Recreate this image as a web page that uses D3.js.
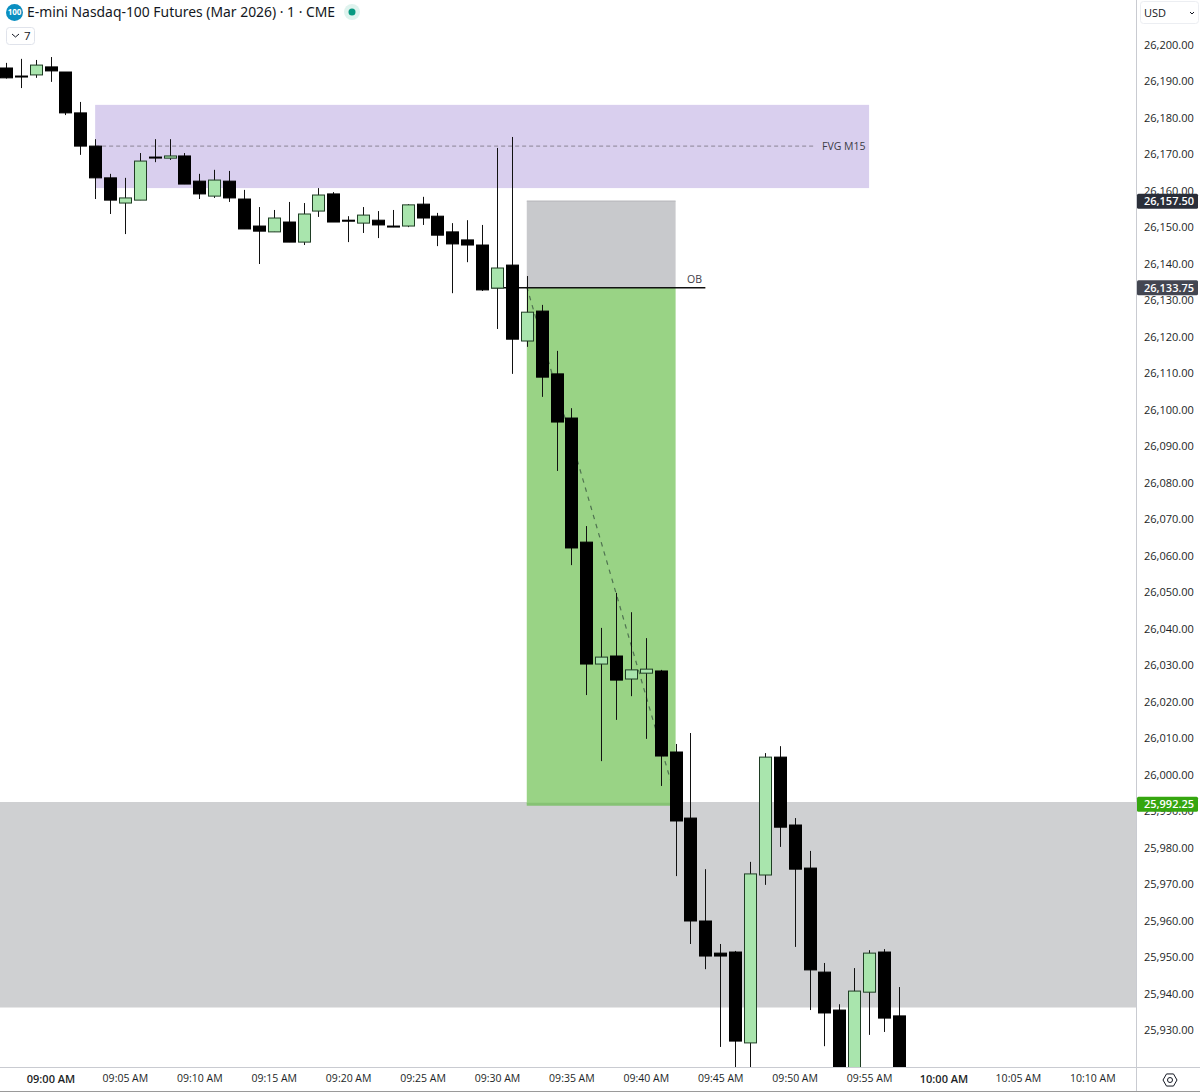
<!DOCTYPE html>
<html><head><meta charset="utf-8">
<script src="https://cdnjs.cloudflare.com/ajax/libs/d3/7.8.5/d3.min.js"></script>
<style>html,body{margin:0;padding:0;background:#fff;overflow:hidden}svg{display:block}text{font-family:"Open Sans","Noto Sans",sans-serif}</style>
</head><body><svg id="c" width="1200" height="1092"></svg>
<script>
// minutes after 09:00
const minutes=[-3,-2,-1,0,1,2,3,4,5,6,7,8,9,10,11,12,13,14,15,16,17,18,19,20,21,22,23,24,25,26,27,28,29,30,31,32,33,34,35,36,37,38,39,40,41,42,43,44,45,46,47,48,49,50,51,52,53,54,55,56,57];
const opens=[26193.7,26191.5,26191.8,26194.0,26192.6,26181.4,26172.3,26163.6,26156.7,26157.5,26169.3,26169.0,26169.6,26162.7,26158.6,26162.7,26157.8,26150.4,26148.8,26151.5,26146.0,26154.5,26159.2,26152.0,26151.2,26152.0,26150.4,26150.4,26156.4,26153.1,26148.8,26146.6,26145.2,26133.4,26139.7,26118.9,26127.1,26109.9,26097.8,26063.8,26030.4,26032.6,26026.3,26027.9,26028.5,26006.3,25988.2,25960.0,25951.2,25951.5,25926.6,25972.6,26004.9,25986.3,25974.5,25946.0,25935.6,25913.7,25940.5,25951.5,25934.0];
const closes=[26191.0,26191.4,26194.5,26192.9,26181.4,26172.3,26163.6,26157.5,26158.1,26168.2,26169.2,26169.6,26161.9,26159.2,26163.0,26158.1,26149.6,26149.0,26152.6,26146.0,26153.7,26158.9,26151.5,26151.9,26153.4,26150.7,26150.3,26156.2,26152.6,26147.9,26145.5,26145.2,26132.9,26138.9,26119.4,26126.8,26109.0,26096.7,26062.2,26030.4,26032.3,26026.0,26028.8,26029.0,26005.2,25987.4,25960.0,25950.4,25950.4,25927.1,25972.9,26004.9,25985.7,25974.2,25946.6,25934.8,25913.7,25940.8,25951.2,25933.4,25913.7];
const highs=[26195.1,26196.2,26195.9,26196.7,26192.6,26184.4,26174.2,26164.7,26163.6,26170.4,26174.2,26174.2,26170.4,26164.7,26165.8,26165.5,26160.3,26155.6,26154.8,26157.0,26156.7,26160.8,26159.7,26153.1,26155.6,26154.5,26154.8,26156.4,26158.4,26154.0,26151.2,26152.0,26150.7,26171.8,26174.8,26136.7,26128.8,26116.2,26100.5,26068.2,26040.3,26049.9,26044.6,26037.5,26028.8,26008.5,26011.5,25974.2,25953.7,25951.8,25976.2,26006.0,26007.9,25988.2,25979.2,25948.5,25937.2,25947.1,25952.0,25952.3,25941.9];
const lows=[26190.8,26188.2,26191.0,26189.9,26180.8,26169.9,26157.8,26153.7,26148.2,26157.5,26167.9,26168.5,26161.9,26157.8,26158.1,26157.0,26149.6,26140.0,26148.8,26146.0,26145.2,26152.9,26151.5,26146.0,26148.5,26147.1,26150.1,26150.1,26150.7,26144.9,26132.0,26140.5,26132.6,26122.2,26109.9,26117.3,26103.6,26083.3,26057.5,26021.9,26003.8,26015.1,26021.6,26009.9,25997.0,25972.3,25953.7,25946.8,25925.5,25917.8,25916.4,25969.9,25980.3,25952.9,25935.6,25925.7,25912.3,25912.3,25928.8,25929.6,25912.3];
const priceTicks=[26200,26190,26180,26170,26160,26150,26140,26130,26120,26110,26100,26090,26080,26070,26060,26050,26040,26030,26020,26010,26000,25990,25980,25970,25960,25950,25940,25930];
const timeTicks=[0,5,10,15,20,25,30,35,40,45,50,55,60,65,70];
const timeLabels=["09:00 AM","09:05 AM","09:10 AM","09:15 AM","09:20 AM","09:25 AM","09:30 AM","09:35 AM","09:40 AM","09:45 AM","09:50 AM","09:55 AM","10:00 AM","10:05 AM","10:10 AM"];
const boldMinutes=[0,60];
const fvgZone=[26183.6,26160.8], fvgMid=26172.3, fvgSpan=[3,55], fvgLineEnd=51.25;
const stopBox=[26157.25,26133.5], targetBox=[26133.5,25992.0], boxSpan=[32,42];
const obLine=[29.6,44], obPrice=26133.5;
const demandZone=[25992.6,25936.3];
const tradeLine=[[32,26133.75],[41.7,25998]];
const priceTags=[[26157.5,"26,157.50","#2a2e39"],[26133.75,"26,133.75","#434651"],[25992.25,"25,992.25","#35a60f"]];

const W=1137,B=1067;
const x=d3.scaleLinear().domain([0,60]).range([50.5,943.5]);
const y=d3.scaleLinear().domain([26200,25930]).range([45,1030.5]);
const svg=d3.select("#c");
svg.append("defs").append("clipPath").attr("id","pane").append("rect").attr("width",W).attr("height",B);
const pane=svg.append("g").attr("clip-path","url(#pane)");
const band=(xa,xb,a,f)=>pane.append("rect").attr("x",xa).attr("width",xb-xa).attr("y",y(a[0])).attr("height",y(a[1])-y(a[0])).attr("fill",f);

band(0,W,demandZone,"#cfd0d2");
band(x(fvgSpan[0]),x(fvgSpan[1]),fvgZone,"#d9cfee");
band(x(boxSpan[0]),x(boxSpan[1]),stopBox,"#c8c9cc");
band(x(boxSpan[0]),x(boxSpan[1]),targetBox,"#99d385");
pane.append("line").attr("x1",x(boxSpan[0])).attr("x2",x(boxSpan[1])).attr("y1",y(targetBox[1])).attr("y2",y(targetBox[1])).attr("stroke","#86c274").attr("stroke-width",3);
pane.append("line").attr("x1",x(boxSpan[0])).attr("x2",x(boxSpan[1])).attr("y1",y(stopBox[0])).attr("y2",y(stopBox[0])).attr("stroke","#b4b5b8");
pane.append("line").attr("x1",x(fvgSpan[0])).attr("x2",x(fvgLineEnd)).attr("y1",y(fvgMid)).attr("y2",y(fvgMid)).attr("stroke","#8a8494").attr("stroke-dasharray","4 3");
pane.append("line").attr("x1",x(tradeLine[0][0])).attr("x2",x(tradeLine[1][0])).attr("y1",y(tradeLine[0][1])).attr("y2",y(tradeLine[1][1])).attr("stroke","#4f7350").attr("stroke-width",1.2).attr("stroke-dasharray","4.5 5");
pane.append("line").attr("x1",x(obLine[0])).attr("x2",x(obLine[1])).attr("y1",y(obPrice)).attr("y2",y(obPrice)).attr("stroke","#111").attr("stroke-width",1.6);

const candles=minutes.map((m,i)=>({m,o:opens[i],c:closes[i],h:highs[i],l:lows[i]}));
const g=pane.selectAll("g.k").data(candles).join("g").attr("class","k");
g.append("line").attr("x1",d=>Math.round(x(d.m))+.5).attr("x2",d=>Math.round(x(d.m))+.5).attr("y1",d=>y(d.h)).attr("y2",d=>y(d.l)).attr("stroke","#111").attr("stroke-width",1);
g.append("rect").attr("x",d=>Math.round(x(d.m))-5.5).attr("width",12)
 .attr("y",d=>y(Math.max(d.o,d.c))).attr("height",d=>Math.max(1,Math.abs(y(d.o)-y(d.c))))
 .attr("fill",d=>d.c>d.o?"#a9e5ad":"#000").attr("stroke",d=>d.c>d.o?"#1f3d24":"#000").attr("stroke-width",1);

pane.append("text").attr("x",822).attr("y",y(fvgMid)+4).attr("font-size",10.5).attr("fill","#3c3c46").text("FVG M15");
pane.append("text").attr("x",687).attr("y",283).attr("font-size",10.5).attr("fill","#3c3c46").text("OB");

// axes
const yAxis=d3.axisRight(y).tickValues(priceTicks).tickSize(0).tickPadding(0).tickFormat(d3.format(",.2f"));
const ya=svg.append("g").attr("transform","translate(1144,-0.5)").call(yAxis);
ya.select(".domain").remove();
ya.selectAll("text").attr("font-size",11).attr("fill","#1c1f26").style("font-family",'"Open Sans"');
const xAxis=d3.axisBottom(x).tickValues(timeTicks).tickSize(0).tickPadding(0).tickFormat((d,i)=>timeLabels[i]);
const xa=svg.append("g").attr("transform","translate(0,1075)").call(xAxis);
xa.select(".domain").remove();
xa.selectAll("text").attr("font-size",10.5).attr("fill","#1c1f26").style("font-family",'"Open Sans"').attr("font-weight",d=>boldMinutes.includes(d)?600:400).attr("font-size",d=>boldMinutes.includes(d)?11:10.5);

const rule=(a,b,c,d,col)=>svg.append("line").attr("x1",a).attr("y1",b).attr("x2",c).attr("y2",d).attr("stroke",col);
rule(1136.5,0,1136.5,1092,"#c9cbd1");
rule(0,1067.5,1200,1067.5,"#c9cbd1");
rule(0,1091.5,1200,1091.5,"#9a9a9a");

priceTags.forEach(([p,t,f])=>{
  svg.append("rect").attr("x",1137).attr("y",y(p)-6.5).attr("width",61).attr("height",15).attr("rx",1.5).attr("fill",f);
  svg.append("text").attr("x",1144).attr("y",y(p)+5).attr("font-size",11).attr("fill","#fff").attr("font-weight",600).text(t);
});

// header
svg.append("circle").attr("cx",14.5).attr("cy",12.5).attr("r",8.5).attr("fill","#0b8fc1");
svg.append("text").attr("x",14.5).attr("y",15.2).attr("text-anchor","middle").attr("font-size",8).attr("font-weight",700).attr("fill","#fff").text("100");
svg.append("text").attr("x",27).attr("y",17).attr("font-size",13.9).attr("fill","#131722").style("font-family",'"Noto Sans"').text("E-mini Nasdaq-100 Futures (Mar 2026) · 1 · CME");
svg.append("circle").attr("cx",352).attr("cy",12).attr("r",8).attr("fill","#dff3ee");
svg.append("circle").attr("cx",352).attr("cy",12).attr("r",3.5).attr("fill","#089981");
svg.append("rect").attr("x",6.5).attr("y",27.5).attr("width",28).attr("height",17).attr("rx",3).attr("fill","#fff").attr("stroke","#e0e3eb");
svg.append("path").attr("d","M12 34 l3.5 3 l3.5 -3").attr("fill","none").attr("stroke","#131722");
svg.append("text").attr("x",24).attr("y",40).attr("font-size",11.5).attr("fill","#131722").text("7");

svg.append("rect").attr("x",1140.5).attr("y",1.5).attr("width",58).attr("height",22).attr("rx",3).attr("fill","#fff").attr("stroke","#eceef2");
svg.append("text").attr("x",1144).attr("y",16.5).attr("font-size",11).attr("fill","#131722").text("USD");
svg.append("path").attr("d","M1190 12 l2 2 l2 -2").attr("fill","none").attr("stroke","#131722");

// settings icon
svg.append("path").attr("d",d3.range(6).map(i=>(i?"L":"M")+(1170+7*Math.cos(i*Math.PI/3))+" "+(1080+7*Math.sin(i*Math.PI/3))).join("")+"Z").attr("fill","none").attr("stroke","#131722");
svg.append("circle").attr("cx",1170).attr("cy",1080).attr("r",2.5).attr("fill","none").attr("stroke","#131722");
</script></body></html>
